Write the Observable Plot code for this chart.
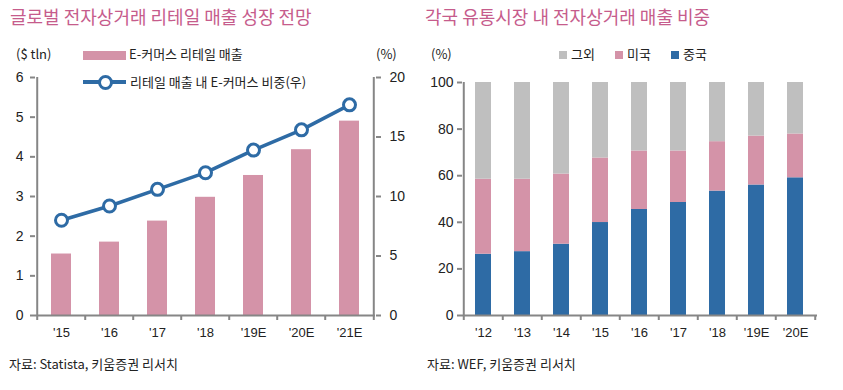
<!DOCTYPE html>
<html><head><meta charset="utf-8">
<script src="https://cdn.jsdelivr.net/npm/d3@7"></script>
<script src="https://cdn.jsdelivr.net/npm/@observablehq/plot@0.6"></script>
<style>
body{margin:0;background:#fff;font-family:"Noto Sans CJK KR","Noto Sans",sans-serif;color:#222;}
#wrap{position:relative;width:843px;height:390px;overflow:hidden;background:#fff;}
.t{position:absolute;white-space:nowrap;line-height:1;}
.title{font-size:18px;color:#C65C8C;}
.small{font-size:13px;color:#222;}
.sw{position:absolute;}
.plot{position:absolute;}
</style></head>
<body>
<div id="wrap">
  <div class="t title" style="left:10px;top:7px;">글로벌 전자상거래 리테일 매출 성장 전망</div>
  <div class="t title" style="left:425px;top:7px;">각국 유통시장 내 전자상거래 매출 비중</div>

  <div class="t small" style="left:16px;top:47px;">($ tln)</div>
  <div class="t small" style="left:376px;top:47px;">(%)</div>
  <div class="sw" style="left:83px;top:51px;width:43px;height:9px;background:#D493A8;"></div>
  <div class="t small" style="left:129px;top:47px;">E-커머스 리테일 매출</div>
  <div class="sw" style="left:83px;top:80px;width:43px;height:4px;background:#2E6BA5;"></div>
  <div class="sw" style="left:98px;top:75px;width:9px;height:9px;border:3px solid #2E6BA5;border-radius:50%;background:#fff;"></div>
  <div class="t small" style="left:130px;top:75px;">리테일 매출 내 E-커머스 비중(우)</div>

  <div class="t small" style="left:431px;top:47px;">(%)</div>
  <div class="sw" style="left:559px;top:51px;width:8px;height:8px;background:#BFBFBF;"></div>
  <div class="t small" style="left:571px;top:47px;">그외</div>
  <div class="sw" style="left:615px;top:51px;width:8px;height:8px;background:#D493A8;"></div>
  <div class="t small" style="left:627px;top:47px;">미국</div>
  <div class="sw" style="left:671px;top:51px;width:8px;height:8px;background:#2E6BA5;"></div>
  <div class="t small" style="left:683px;top:47px;">중국</div>

  <div class="t small" style="left:9px;top:357px;">자료: Statista, 키움증권 리서치</div>
  <div class="t small" style="left:427px;top:357px;">자료: WEF, 키움증권 리서치</div>

  <div id="p1" class="plot" style="left:0px;top:60px;"></div>
  <div id="p2" class="plot" style="left:420px;top:60px;"></div>
</div>
<script>
// ---- Left chart data ----
const years1 = ["'15","'16","'17","'18","'19E","'20E","'21E"];
const sales = [1.55, 1.85, 2.38, 2.98, 3.53, 4.18, 4.9];        // $ tln
const share = [8.0, 9.2, 10.6, 12.0, 13.9, 15.6, 17.7];         // %
const salesTicks = [0, 1, 2, 3, 4, 5, 6];
const shareTicks = [0, 5, 10, 15, 20];

// ---- Right chart data ----
const years2 = ["'12","'13","'14","'15","'16","'17","'18","'19E","'20E"];
const series2 = ["중국", "미국", "그외"];
const china = [26.3, 27.4, 30.6, 39.9, 45.5, 48.5, 53.4, 56.0, 59.1];
const usa   = [32.2, 31.1, 30.1, 27.7, 25.1, 22.1, 21.2, 21.0, 18.8];
const other = [41.5, 41.5, 39.3, 32.4, 29.4, 29.4, 25.4, 23.0, 22.1];
const pctTicks = [0, 20, 40, 60, 80, 100];

const PINK = "#D493A8", BLUE = "#2E6BA5", GRAY = "#BFBFBF", AX = "#868686";
const FONT = "'Liberation Sans','Noto Sans CJK KR',sans-serif";

// ---------- Left plot ----------
{
  const W = 420, H = 300, ml = 35, mr = 45, mt = 17, mb = 45;
  const step = (W - ml - mr) / years1.length;
  const yMax = salesTicks[salesTicks.length - 1], pMax = shareTicks[shareTicks.length - 1];
  const data = years1.map((y, i) => ({year: y, sales: sales[i], share: share[i]}));
  const p = Plot.plot({
    width: W, height: H, marginLeft: ml, marginRight: mr, marginTop: mt, marginBottom: mb,
    style: {fontFamily: FONT, color: "#222", background: "transparent"},
    x: {type: "band", domain: years1, paddingInner: 0.59, paddingOuter: 0.295},
    y: {domain: [0, yMax]},
    marks: [
      Plot.barY(data, {x: "year", y: "sales", fill: PINK}),
      Plot.ruleY([0], {stroke: AX, strokeWidth: 2}),
      Plot.ruleX([years1[0]], {x: d => d, dx: -step / 2, stroke: AX, strokeWidth: 2}),
      Plot.ruleX([years1[years1.length - 1]], {x: d => d, dx: step / 2, stroke: AX, strokeWidth: 2}),
      Plot.ruleX(years1, {x: d => d, dx: -step / 2, insetTop: H - mt - mb, insetBottom: -5, stroke: AX, strokeWidth: 2}),
      Plot.ruleX([years1[years1.length - 1]], {x: d => d, dx: step / 2, insetTop: H - mt - mb, insetBottom: -5, stroke: AX, strokeWidth: 2}),
      Plot.axisY({ticks: salesTicks, tickFormat: v => String(v), tickSize: 5, tickPadding: 7, stroke: AX, strokeWidth: 2, fontSize: 14, label: null}),
      Plot.axisY({anchor: "right", ticks: shareTicks.map(v => v * yMax / pMax), tickFormat: v => String(Math.round(v * pMax / yMax)),
                  tickSize: 5, tickPadding: 9, stroke: AX, strokeWidth: 2, fontSize: 14, label: null}),
      Plot.axisX({tickSize: 0, tickPadding: 12, fontSize: 13, label: null}),
      Plot.line(data, {x: "year", y: d => d.share * yMax / pMax, stroke: BLUE, strokeWidth: 3.5}),
      Plot.dot(data, {x: "year", y: d => d.share * yMax / pMax, r: 6, fill: "#fff", stroke: BLUE, strokeWidth: 3})
    ]
  });
  document.getElementById("p1").appendChild(p);
}

// ---------- Right plot ----------
{
  const W = 423, H = 300, ml = 42, mr = 26, mt = 22, mb = 45;
  const step = (W - ml - mr) / years2.length;
  const vals = {"중국": china, "미국": usa, "그외": other};
  const data = [];
  years2.forEach((y, i) => series2.forEach(s => data.push({year: y, series: s, value: vals[s][i]})));
  const p = Plot.plot({
    width: W, height: H, marginLeft: ml, marginRight: mr, marginTop: mt, marginBottom: mb,
    style: {fontFamily: FONT, color: "#222", background: "transparent"},
    x: {type: "band", domain: years2, paddingInner: 0.585, paddingOuter: 0.2925},
    y: {domain: [0, 100]},
    color: {domain: series2, range: [BLUE, PINK, GRAY]},
    marks: [
      Plot.barY(data, {x: "year", y: "value", fill: "series", order: series2}),
      Plot.ruleY([0], {stroke: AX, strokeWidth: 2}),
      Plot.ruleX([years2[0]], {x: d => d, dx: -step / 2, stroke: AX, strokeWidth: 2}),
      Plot.ruleX(years2, {x: d => d, dx: -step / 2, insetTop: H - mt - mb, insetBottom: -5, stroke: AX, strokeWidth: 2}),
      Plot.ruleX([years2[years2.length - 1]], {x: d => d, dx: step / 2, insetTop: H - mt - mb, insetBottom: -5, stroke: AX, strokeWidth: 2}),
      Plot.axisY({ticks: pctTicks, tickSize: 5, tickPadding: 4, stroke: AX, strokeWidth: 2, fontSize: 14, label: null}),
      Plot.axisX({tickSize: 0, tickPadding: 12, fontSize: 13, label: null})
    ]
  });
  document.getElementById("p2").appendChild(p);
}
</script>
</body></html>
